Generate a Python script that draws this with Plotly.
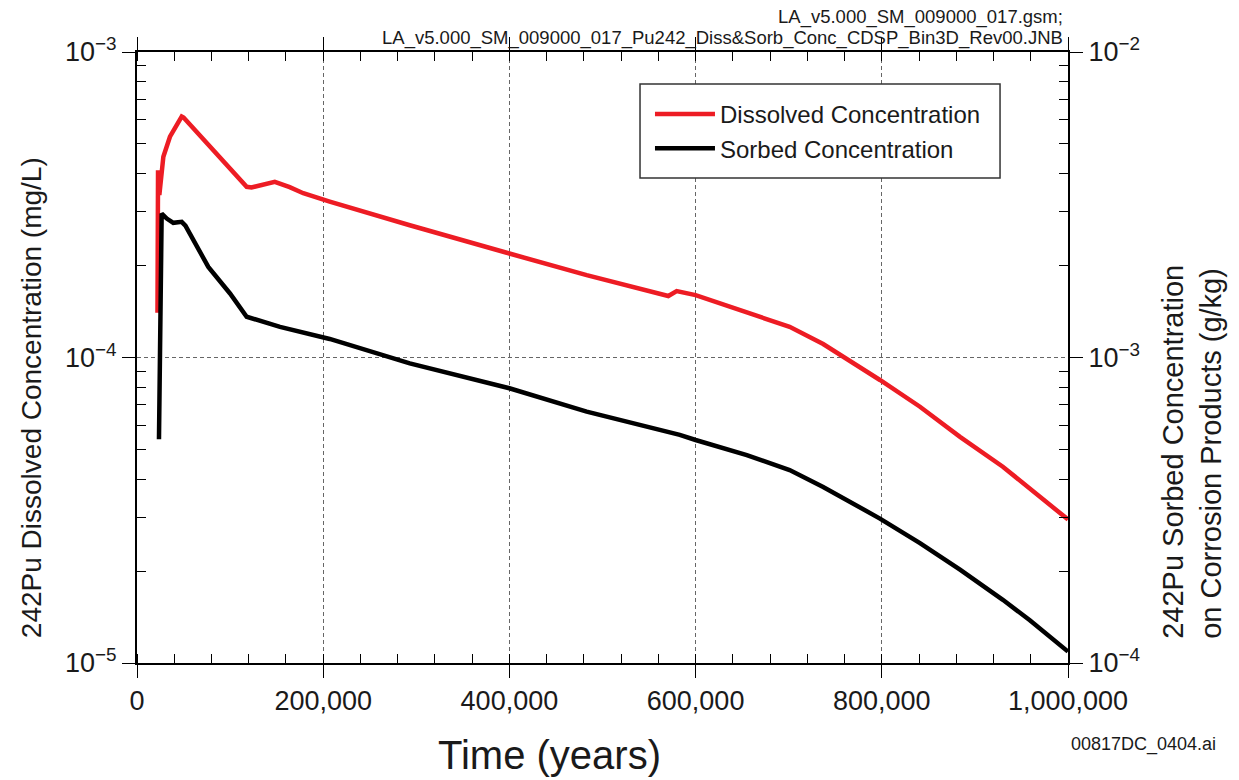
import plotly.graph_objects as go

# Pu-242 concentrations over time
years_diss = [22000, 22600, 24000, 28300, 35400, 48000, 50000, 82000, 117800, 123000,
              135700, 148000, 164000, 178600, 207000, 293000, 400000, 483000, 570700,
              579700, 600000, 655000, 701000, 737000, 762000, 798000, 841000, 884000,
              930000, 959000, 1000000]
dissolved_mg_per_L = [1.4e-4, 4.1e-4, 3.4e-4, 4.54e-4, 5.28e-4, 6.15e-4, 6.1e-4, 4.78e-4,
                      3.62e-4, 3.6e-4, 3.69e-4, 3.76e-4, 3.61e-4, 3.45e-4, 3.24e-4, 2.71e-4,
                      2.19e-4, 1.86e-4, 1.59e-4, 1.65e-4, 1.60e-4, 1.41e-4, 1.26e-4, 1.107e-4,
                      9.93e-5, 8.44e-5, 6.9e-5, 5.5e-5, 4.39e-5, 3.73e-5, 2.95e-5]

years_sorb = [23600, 26500, 32000, 39000, 48000, 52000, 76600, 99900, 117800, 128600,
              153600, 207000, 293000, 400000, 483000, 583000, 600000, 655000, 701000,
              737000, 762000, 798000, 841000, 884000, 930000, 959000, 1000000]
sorbed_g_per_kg = [5.4e-4, 2.96e-3, 2.85e-3, 2.76e-3, 2.78e-3, 2.7e-3, 1.98e-3, 1.62e-3,
                   1.36e-3, 1.33e-3, 1.26e-3, 1.15e-3, 9.57e-4, 7.93e-4, 6.65e-4, 5.58e-4,
                   5.37e-4, 4.79e-4, 4.28e-4, 3.77e-4, 3.42e-4, 2.97e-4, 2.47e-4, 2.02e-4,
                   1.61e-4, 1.38e-4, 1.09e-4]

x_ticks = [0, 200000, 400000, 600000, 800000, 1000000]
x_tick_text = ["0", "200,000", "400,000", "600,000", "800,000", "1,000,000"]
left_exps = [-5, -4, -3]
right_exps = [-4, -3, -2]

FONT = "Liberation Sans, Arial, sans-serif"
TXT = "#1a1a1a"


def log_minor(exps):
    vals = []
    for e in exps[:-1]:
        vals += [m * 10.0 ** e for m in range(2, 10)]
    return vals


fig = go.Figure()
fig.add_trace(go.Scatter(x=years_diss, y=dissolved_mg_per_L, mode="lines",
                         name="Dissolved Concentration",
                         line=dict(color="#ed1c24", width=4.5)))
fig.add_trace(go.Scatter(x=years_sorb, y=sorbed_g_per_kg, mode="lines",
                         name="Sorbed Concentration", yaxis="y2",
                         line=dict(color="#000000", width=4.5)))

axis_common = dict(showline=True, linecolor="black", linewidth=2,
                   ticks="outside", ticklen=13, tickwidth=1, tickcolor="black",
                   tickfont=dict(family=FONT, size=27, color=TXT), zeroline=False)
grid_style = dict(showgrid=True, gridcolor="#666666", griddash="4px,3px", gridwidth=1)

fig.update_layout(
    width=1239, height=780,
    margin=dict(l=137, r=171, t=52, b=117),
    paper_bgcolor="white", plot_bgcolor="white",
    font=dict(family=FONT, color=TXT),
    showlegend=True,
    legend=dict(x=0.551, y=0.9345, xanchor="left", yanchor="top",
                borderwidth=0, bgcolor="rgba(0,0,0,0)",
                font=dict(family=FONT, size=24, color=TXT),
                itemwidth=60, tracegroupgap=0),
    xaxis=dict(range=[0, 1000000], tickvals=x_ticks, ticktext=x_tick_text,
               mirror="ticks",
               minor=dict(dtick=40000, tick0=0, ticks="inside", ticklen=9,
                          tickcolor="black", showgrid=False),
               **grid_style, **axis_common),
    yaxis=dict(type="log", range=[-5, -3],
               tickvals=[10.0 ** e for e in left_exps],
               ticktext=[f"10<sup>\u2212{-e}</sup>" for e in left_exps],
               minor=dict(tickvals=log_minor(left_exps), ticks="inside", ticklen=9,
                          tickcolor="black", showgrid=False),
               **grid_style, **axis_common),
    yaxis2=dict(type="log", range=[-4, -2], overlaying="y", side="right",
                tickvals=[10.0 ** e for e in right_exps],
                ticktext=[f"10<sup>\u2212{-e}</sup>" for e in right_exps],
                showgrid=False,
                minor=dict(tickvals=log_minor(right_exps), ticks="inside", ticklen=9,
                           tickcolor="black", showgrid=False),
                **axis_common),
)

# legend frame
fig.add_shape(type="rect", xref="paper", yref="paper",
              x0=0.5403, x1=0.927, y0=0.7938, y1=0.9476,
              line=dict(color="#333333", width=1.5), fillcolor="white", layer="above")

# axis titles
fig.add_annotation(xref="paper", yref="paper", x=0.4436, y=-0.1506,
                   xanchor="center", yanchor="middle", showarrow=False,
                   text="Time (years)", font=dict(family=FONT, size=40, color=TXT))
fig.add_annotation(xref="paper", yref="paper", x=-0.1139, y=0.435,
                   xanchor="center", yanchor="middle", showarrow=False, textangle=-90,
                   text="242Pu Dissolved Concentration (mg/L)",
                   font=dict(family=FONT, size=28, color=TXT))
fig.add_annotation(xref="paper", yref="paper", x=1.133, y=0.036,
                   xanchor="center", yanchor="bottom", showarrow=False, textangle=-90,
                   align="left",
                   text="242Pu Sorbed Concentration<br>on Corrosion Products (g/kg)",
                   font=dict(family=FONT, size=29, color=TXT))

# file stamps
fig.add_annotation(xref="paper", yref="paper", x=0.9968, y=1.0573, xanchor="right",
                   yanchor="middle", showarrow=False,
                   text="LA_v5.000_SM_009000_017.gsm;",
                   font=dict(family=FONT, size=18.5, color=TXT))
fig.add_annotation(xref="paper", yref="paper", x=0.9968, y=1.0229, xanchor="right",
                   yanchor="middle", showarrow=False,
                   text="LA_v5.000_SM_009000_017_Pu242_Diss&Sorb_Conc_CDSP_Bin3D_Rev00.JNB",
                   font=dict(family=FONT, size=18.5, color=TXT))
fig.add_annotation(xref="paper", yref="paper", x=1.1611, y=-0.1342, xanchor="right",
                   yanchor="middle", showarrow=False, text="00817DC_0404.ai",
                   font=dict(family=FONT, size=18, color=TXT))

fig.write_html("out.html")
